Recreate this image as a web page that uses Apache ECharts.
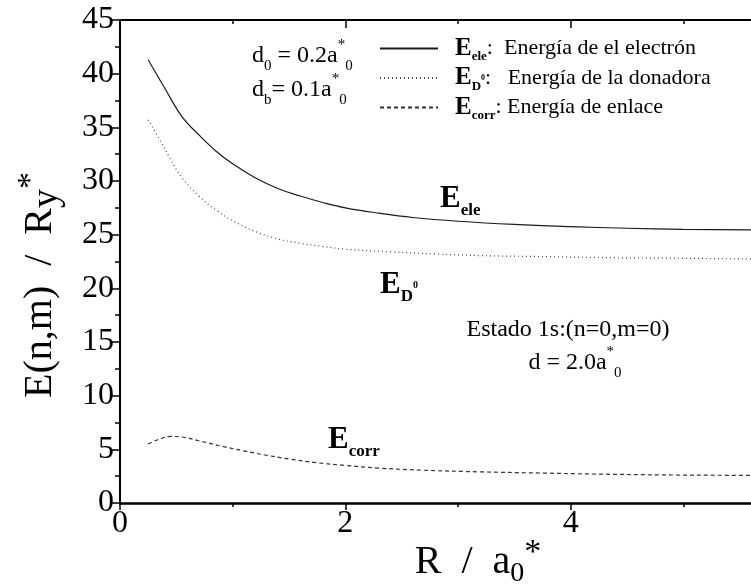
<!DOCTYPE html>
<html>
<head>
<meta charset="utf-8">
<script src="https://cdn.jsdelivr.net/npm/echarts@6/dist/echarts.min.js"></script>
<style>
  html, body { margin: 0; padding: 0; background: #ffffff; }
  #chart { width: 751px; height: 585px; }
</style>
</head>
<body>
<div id="chart"></div>
<script>
// Energía del electrón (línea continua)
const rEle = [0.25, 0.4, 0.55, 0.7, 0.85, 1.0, 1.2, 1.4, 1.6, 1.8, 2.0, 2.3, 2.6, 3.0, 3.5, 4.0, 4.5, 5.0, 5.6, 6.0];
const eEle = [41.3, 38.6, 36.0, 34.3, 32.8, 31.6, 30.3, 29.3, 28.6, 28.0, 27.5, 27.0, 26.6, 26.25, 25.95, 25.75, 25.6, 25.5, 25.45, 25.4];

// Energía de la donadora (línea punteada)
const rD0 = [0.25, 0.35, 0.45, 0.55, 0.7, 0.85, 1.0, 1.2, 1.4, 1.6, 1.8, 2.0, 2.4, 2.8, 3.2, 3.8, 4.4, 5.0, 5.6, 6.0];
const eD0 = [35.7, 33.9, 32.0, 30.3, 28.6, 27.3, 26.3, 25.3, 24.6, 24.2, 23.9, 23.65, 23.4, 23.2, 23.05, 22.95, 22.85, 22.8, 22.75, 22.75];

// Energía de enlace (línea discontinua)
const rCorr = [0.25, 0.35, 0.45, 0.55, 0.7, 0.9, 1.1, 1.3, 1.5, 1.75, 2.0, 2.3, 2.7, 3.2, 3.7, 4.2, 4.8, 5.4, 6.0];
const eCorr = [5.5, 5.95, 6.2, 6.15, 5.8, 5.3, 4.85, 4.45, 4.1, 3.75, 3.5, 3.25, 3.05, 2.9, 2.8, 2.7, 2.62, 2.58, 2.55];

const seriesNames = ['E_ele', 'E_D0', 'E_corr'];
const legendLabels = {
  'E_ele': '{b|E}{s|ele}{t|:  Energía de el electrón}',
  'E_D0': '{b|E}{s|D}{ss|0}{t|:   Energía de la donadora}',
  'E_corr': '{b|E}{s|corr}{t|: Energía de enlace}'
};

const FONT = '"Liberation Serif", "Times New Roman", serif';

function pairs(xs, ys) { return xs.map((x, i) => [x, ys[i]]); }

const chart = echarts.init(document.getElementById('chart'));

const richSmall = {
  b: { fontFamily: FONT, fontWeight: 'bold', fontSize: 25, lineHeight: 30, color: '#000' },
  s: { fontFamily: FONT, fontWeight: 'bold', fontSize: 13, verticalAlign: 'bottom', color: '#000' },
  ss: { fontFamily: FONT, fontWeight: 'bold', fontSize: 8, verticalAlign: 'middle', color: '#000' },
  t: { fontFamily: FONT, fontSize: 22, color: '#000' }
};

const richAnno = {
  b: { fontFamily: FONT, fontWeight: 'bold', fontSize: 31, lineHeight: 40, color: '#000' },
  s: { fontFamily: FONT, fontWeight: 'bold', fontSize: 17, verticalAlign: 'bottom', color: '#000' },
  ss: { fontFamily: FONT, fontWeight: 'bold', fontSize: 10, verticalAlign: 'middle', color: '#000' }
};

const richPlain = {
  t: { fontFamily: FONT, fontSize: 24, lineHeight: 36, color: '#000' },
  sub: { fontFamily: FONT, fontSize: 15, verticalAlign: 'bottom', color: '#000' },
  sup: { fontFamily: FONT, fontSize: 15, verticalAlign: 'top', color: '#000' }
};

const richTitle = {
  t: { fontFamily: FONT, fontSize: 40, lineHeight: 52, color: '#000' },
  sub: { fontFamily: FONT, fontSize: 28, verticalAlign: 'bottom', color: '#000' },
  y: { fontFamily: FONT, fontSize: 38, verticalAlign: 'bottom', color: '#000' },
  sup: { fontFamily: FONT, fontSize: 34, verticalAlign: 'top', color: '#000' }
};

const axisLabelStyle = { fontFamily: FONT, fontSize: 32, color: '#000' };

chart.setOption({
  animation: false,
  backgroundColor: '#ffffff',
  grid: { left: 120, top: 20, bottom: 82, right: -45, containLabel: false, outerBoundsMode: 'none' },
  xAxis: [
    {
      type: 'value', position: 'bottom', min: 0, max: 6, interval: 2,
      axisLine: { show: true, onZero: false, lineStyle: { color: '#000', width: 2.5 } },
      axisTick: { show: true, inside: false, length: 7, lineStyle: { color: '#000', width: 1.5 } },
      minorTick: { show: true, splitNumber: 2, length: 4, lineStyle: { color: '#000', width: 1.5 } },
      splitLine: { show: false },
      axisLabel: Object.assign({ margin: 5 }, axisLabelStyle)
    },
    {
      type: 'value', position: 'top', min: 0, max: 6, interval: 2,
      axisLine: { show: true, onZero: false, lineStyle: { color: '#000', width: 2 } },
      axisTick: { show: true, inside: true, length: 8, lineStyle: { color: '#000', width: 1.5 } },
      minorTick: { show: true, splitNumber: 2, length: 4, lineStyle: { color: '#000', width: 1.5 } },
      splitLine: { show: false },
      axisLabel: { show: false }
    }
  ],
  yAxis: {
    type: 'value', min: 0, max: 45, interval: 5,
    axisLine: { show: true, onZero: false, lineStyle: { color: '#000', width: 2 } },
    axisTick: { show: true, inside: false, length: 8, lineStyle: { color: '#000', width: 1.5 } },
    minorTick: { show: true, splitNumber: 2, length: 5, lineStyle: { color: '#000', width: 1.5 } },
    splitLine: { show: false },
    axisLabel: Object.assign({ margin: 6 }, axisLabelStyle)
  },
  legend: {
    orient: 'vertical', left: 374, top: 31, itemGap: 2,
    itemWidth: 58, itemHeight: 14,
    data: seriesNames,
    itemStyle: { opacity: 0 },
    formatter: name => legendLabels[name],
    textStyle: { rich: richSmall, padding: [0, 0, 0, 12] }
  },
  series: [
    {
      name: seriesNames[0], type: 'line', data: pairs(rEle, eEle), smooth: 0.4,
      showSymbol: false, symbol: 'none',
      lineStyle: { color: '#1a1a1a', width: 1.2, type: 'solid' }
    },
    {
      name: seriesNames[1], type: 'line', data: pairs(rD0, eD0), smooth: 0.4,
      showSymbol: false, symbol: 'none',
      lineStyle: { color: '#444', width: 1.2, type: [1, 3] }
    },
    {
      name: seriesNames[2], type: 'line', data: pairs(rCorr, eCorr), smooth: 0.4,
      showSymbol: false, symbol: 'none',
      lineStyle: { color: '#333', width: 1.2, type: [4, 3] }
    }
  ],
  graphic: [
    { type: 'text', x: 40, y: 285, rotation: Math.PI / 2,
      style: { text: '{t|E(n,m)  /  R}{y|y}{sup|*}', rich: richTitle, align: 'center', verticalAlign: 'middle' } },
    { type: 'text', x: 478, y: 562,
      style: { text: '{t|R  /  a}{sub|0}{sup|*}', rich: richTitle, align: 'center', verticalAlign: 'middle' } },
    { type: 'text', x: 252, y: 56,
      style: { text: '{t|d}{sub|0}{t| = 0.2a}{sup|*}{sub|0}', rich: richPlain, align: 'left', verticalAlign: 'middle' } },
    { type: 'text', x: 252, y: 90,
      style: { text: '{t|d}{sub|b}{t|= 0.1a}{sup|*}{sub|0}', rich: richPlain, align: 'left', verticalAlign: 'middle' } },
    { type: 'text', x: 440, y: 199,
      style: { text: '{b|E}{s|ele}', rich: richAnno, align: 'left', verticalAlign: 'middle' } },
    { type: 'text', x: 380, y: 285,
      style: { text: '{b|E}{s|D}{ss|0}', rich: richAnno, align: 'left', verticalAlign: 'middle' } },
    { type: 'text', x: 328, y: 440,
      style: { text: '{b|E}{s|corr}', rich: richAnno, align: 'left', verticalAlign: 'middle' } },
    { type: 'text', x: 568, y: 330,
      style: { text: '{t|Estado 1s:(n=0,m=0)}', rich: richPlain, align: 'center', verticalAlign: 'middle' } },
    { type: 'text', x: 575, y: 363,
      style: { text: '{t|d = 2.0a}{sup|*}{sub|0}', rich: richPlain, align: 'center', verticalAlign: 'middle' } }
  ]
});
</script>
</body>
</html>
